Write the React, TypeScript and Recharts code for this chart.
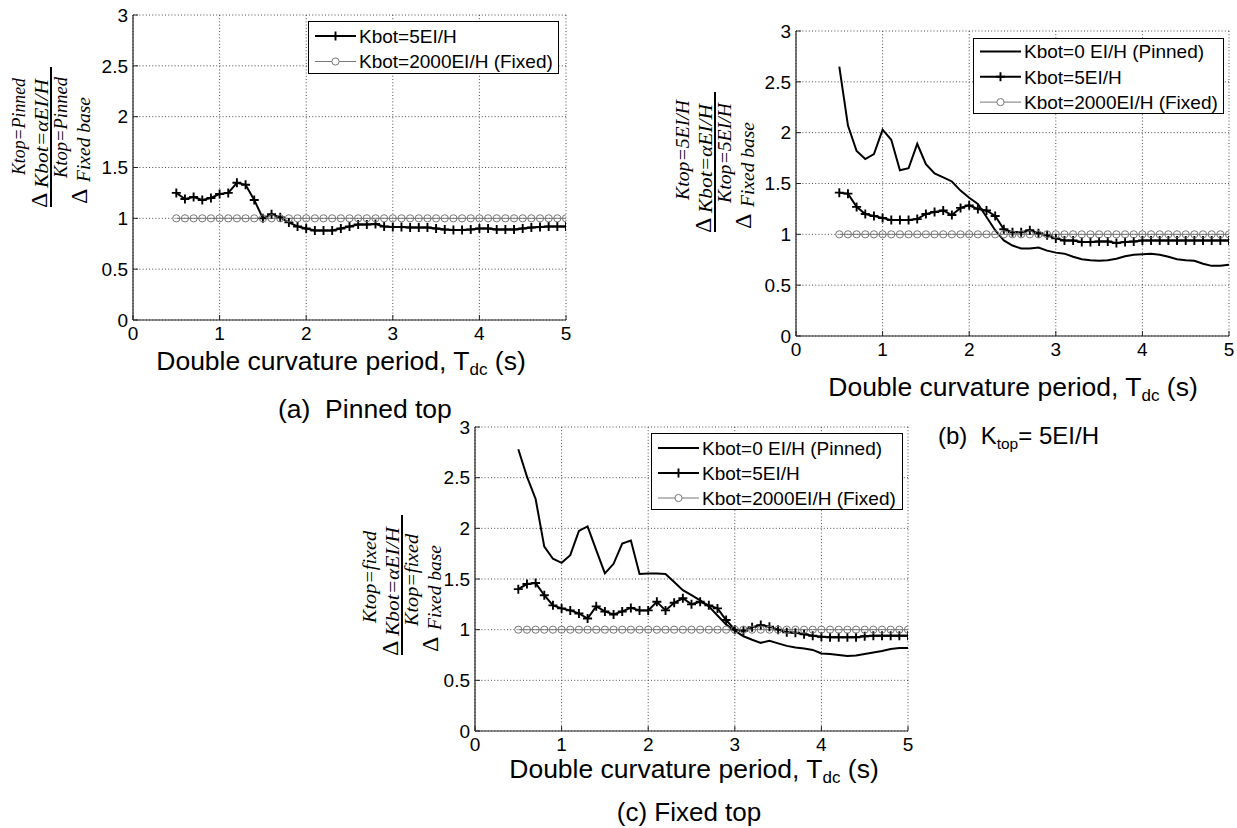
import React from 'react';
import { LineChart, Line, XAxis, YAxis, CartesianGrid, Legend } from 'recharts';

// ---------------- data ----------------
const periods = [
  0.5, 0.6, 0.7, 0.8, 0.9, 1.0, 1.1, 1.2, 1.3, 1.4,
  1.5, 1.6, 1.7, 1.8, 1.9, 2.0, 2.1, 2.2, 2.3, 2.4,
  2.5, 2.6, 2.7, 2.8, 2.9, 3.0, 3.1, 3.2, 3.3, 3.4,
  3.5, 3.6, 3.7, 3.8, 3.9, 4.0, 4.1, 4.2, 4.3, 4.4,
  4.5, 4.6, 4.7, 4.8, 4.9, 5.0,
];

const fixedRatio = [
  1, 1, 1, 1, 1, 1, 1, 1, 1, 1,
  1, 1, 1, 1, 1, 1, 1, 1, 1, 1,
  1, 1, 1, 1, 1, 1, 1, 1, 1, 1,
  1, 1, 1, 1, 1, 1, 1, 1, 1, 1,
  1, 1, 1, 1, 1, 1,
];

// (a) Pinned top
const aKbot5 = [
  1.25, 1.19, 1.21, 1.18, 1.2, 1.24, 1.25, 1.35, 1.33, 1.18,
  1.0, 1.04, 1.01, 0.96, 0.92, 0.9, 0.88, 0.88, 0.88, 0.9,
  0.92, 0.94, 0.94, 0.945, 0.92, 0.915, 0.915, 0.91, 0.91, 0.91,
  0.9, 0.89, 0.885, 0.885, 0.89, 0.9, 0.9, 0.89, 0.89, 0.89,
  0.9, 0.91, 0.915, 0.92, 0.92, 0.92,
];

// (b) Ktop = 5EI/H
const bKbot0 = [
  2.65, 2.07, 1.82, 1.74, 1.79, 2.03, 1.93, 1.63, 1.65, 1.89,
  1.69, 1.6, 1.56, 1.52, 1.43, 1.36, 1.3, 1.17, 1.04, 0.94,
  0.89, 0.86, 0.86, 0.87, 0.84, 0.82, 0.81, 0.78, 0.755, 0.745,
  0.74, 0.745, 0.76, 0.785, 0.8, 0.805, 0.81, 0.8, 0.78, 0.755,
  0.745, 0.74, 0.71, 0.69, 0.69, 0.7,
];
const bKbot5 = [
  1.41, 1.4, 1.27, 1.2, 1.18, 1.16, 1.14, 1.14, 1.14, 1.15,
  1.2, 1.22, 1.235, 1.19, 1.26, 1.285, 1.25, 1.235, 1.18, 1.05,
  1.02, 1.02, 1.04, 1.01, 0.99, 0.96, 0.94, 0.94, 0.925, 0.925,
  0.93, 0.93, 0.915, 0.925, 0.93, 0.94, 0.94, 0.94, 0.94, 0.94,
  0.94, 0.94, 0.94, 0.94, 0.94, 0.94,
];

// (c) Fixed top
const cKbot0 = [
  2.78, 2.51, 2.29, 1.82, 1.7, 1.66, 1.735, 1.975, 2.02, 1.785,
  1.555, 1.65, 1.85, 1.88, 1.55, 1.555, 1.555, 1.55, 1.47, 1.39,
  1.34, 1.29, 1.23, 1.14, 1.05, 0.99, 0.935, 0.9, 0.87, 0.89,
  0.865, 0.84, 0.825, 0.815, 0.8, 0.765, 0.76, 0.75, 0.74, 0.745,
  0.76, 0.775, 0.79, 0.81, 0.82, 0.82,
];
const cKbot5 = [
  1.4, 1.45, 1.46, 1.34, 1.24, 1.21, 1.19, 1.16, 1.11, 1.23,
  1.18, 1.15, 1.18, 1.215, 1.19, 1.19, 1.275, 1.19, 1.265, 1.31,
  1.25, 1.275, 1.24, 1.21, 1.095, 1.0, 0.99, 1.025, 1.045, 1.03,
  1.0, 0.975, 0.97, 0.955, 0.94, 0.93, 0.925, 0.925, 0.925, 0.925,
  0.935, 0.94, 0.94, 0.94, 0.94, 0.94,
];

const xTicks = [0, 1, 2, 3, 4, 5];
const yTicks = [0, 0.5, 1, 1.5, 2, 2.5, 3];

const labelPinned = 'Kbot=0 EI/H (Pinned)';
const label5 = 'Kbot=5EI/H';
const labelFixed = 'Kbot=2000EI/H (Fixed)';

// ---------------- styling ----------------
const SANS = '"Liberation Sans", Arial, Helvetica, sans-serif';
const SERIF = '"Liberation Serif", "Times New Roman", serif';
const GREY = '#777777';

const PlusDot = (props: any) => {
  const { cx, cy, index } = props;
  if (cx == null || cy == null) return null;
  const s = 4.5;
  return (
    <path
      key={`plus-${index}`}
      d={`M${cx - s},${cy}H${cx + s}M${cx},${cy - s}V${cy + s}`}
      stroke="#000"
      strokeWidth={1.9}
      fill="none"
    />
  );
};

const CircleDot = (props: any) => {
  const { cx, cy, index } = props;
  if (cx == null || cy == null) return null;
  return <circle key={`circ-${index}`} cx={cx} cy={cy} r={3.6} fill="none" stroke={GREY} strokeWidth={1} />;
};

type Entry = { kind: 'plain' | 'plus' | 'circle'; label: string };

const makeLegend = (entries: Entry[], w: number, h: number, rowStart: number, rowGap: number) => () => (
  <svg width={w} height={h} style={{ display: 'block' }}>
    <rect x={0.5} y={0.5} width={w - 1} height={h - 1} fill="#fff" stroke="#000" strokeWidth={1} />
    {entries.map((e, i) => {
      const y = rowStart + i * rowGap;
      const col = e.kind === 'circle' ? GREY : '#000';
      return (
        <g key={i}>
          <line x1={7} x2={48} y1={y} y2={y} stroke={col} strokeWidth={e.kind === 'circle' ? 1 : 2} />
          {e.kind === 'plus' && (
            <path d={`M${27.5 - 4.5},${y}H${27.5 + 4.5}M27.5,${y - 4.5}V${y + 4.5}`} stroke="#000" strokeWidth={1.9} />
          )}
          {e.kind === 'circle' && <circle cx={27.5} cy={y} r={3.6} fill="#fff" stroke={GREY} strokeWidth={1} />}
          <text x={51} y={y + 6.8} fontSize={19} fontFamily={SANS} fill="#000">
            {e.label}
          </text>
        </g>
      );
    })}
  </svg>
);

type PanelProps = {
  plotLeft: number;
  plotTop: number;
  plotW: number;
  plotH: number;
  data: any[];
  hasPinned: boolean;
  legend: { x: number; y: number; w: number; h: number; rowStart: number; rowGap: number };
};

const YW = 60;
const MT = 10;
const MR = 8;
const XH = 40;

function Panel({ plotLeft, plotTop, plotW, plotH, data, hasPinned, legend }: PanelProps) {
  const chartLeft = plotLeft - YW;
  const chartTop = plotTop - MT;
  const w = YW + plotW + MR;
  const h = MT + plotH + XH;
  const entries: Entry[] = hasPinned
    ? [
        { kind: 'plain', label: labelPinned },
        { kind: 'plus', label: label5 },
        { kind: 'circle', label: labelFixed },
      ]
    : [
        { kind: 'plus', label: label5 },
        { kind: 'circle', label: labelFixed },
      ];
  const tickStyle = { fontSize: 19, fill: '#000', fontFamily: SANS };
  return (
    <div style={{ position: 'absolute', left: chartLeft, top: chartTop, width: w, height: h }}>
      <LineChart width={w} height={h} data={data} margin={{ top: MT, right: MR, left: 0, bottom: 0 }}>
        <CartesianGrid stroke="#3a3a3a" strokeWidth={0.9} strokeDasharray="1 2.2" />
        <XAxis
          dataKey="t"
          type="number"
          domain={[0, 5]}
          ticks={xTicks}
          interval={0}
          height={XH}
          allowDataOverflow
          axisLine={{ stroke: '#222', strokeWidth: 1.2 }}
          tickLine={{ stroke: '#222', strokeWidth: 1 }}
          tickSize={-5}
          tickMargin={12}
          tick={tickStyle}
        />
        <YAxis
          type="number"
          domain={[0, 3]}
          ticks={yTicks}
          interval={0}
          width={YW}
          allowDataOverflow
          axisLine={{ stroke: '#222', strokeWidth: 1.2 }}
          tickLine={{ stroke: '#222', strokeWidth: 1 }}
          tickSize={-5}
          tickMargin={10}
          tick={tickStyle}
        />
        {hasPinned && (
          <Line type="linear" dataKey="k0" stroke="#000" strokeWidth={2} dot={false} isAnimationActive={false} />
        )}
        <Line type="linear" dataKey="k5" stroke="#000" strokeWidth={2} dot={PlusDot} isAnimationActive={false} />
        <Line type="linear" dataKey="kf" stroke={GREY} strokeWidth={1} dot={CircleDot} isAnimationActive={false} />
        <Legend
          layout="horizontal"
          align="center"
          verticalAlign="middle"
          content={makeLegend(entries, legend.w, legend.h, legend.rowStart, legend.rowGap)}
          wrapperStyle={{
            position: 'absolute',
            left: legend.x - chartLeft,
            top: legend.y - chartTop,
            width: legend.w,
            height: legend.h,
            margin: 0,
            padding: 0,
          }}
        />
      </LineChart>
    </div>
  );
}

// Rotated fraction label (y axis)
function FracLabel({ cx, cy, supNum, subNum, supDen, subDen, lens }: any) {
  const fs = 19;
  return (
    <g transform={`translate(${cx},${cy}) rotate(-90)`} fontFamily={SERIF} fill="#000">
      <line x1={-70} x2={70} y1={0} y2={0} stroke="#000" strokeWidth={2} />
      <text x={-71} y={-4} fontSize={24}>Δ</text>
      <text x={-38} y={-26} fontSize={fs} fontStyle="italic" textLength={lens[0]} lengthAdjust="spacingAndGlyphs">
        {supNum}
      </text>
      <text x={-51} y={-3} fontSize={fs} fontStyle="italic" textLength={lens[1]} lengthAdjust="spacingAndGlyphs">
        {subNum}
      </text>
      <text x={-67} y={36} fontSize={24}>Δ</text>
      <text x={-41} y={16} fontSize={fs} fontStyle="italic" textLength={lens[2]} lengthAdjust="spacingAndGlyphs">
        {supDen}
      </text>
      <text x={-45} y={39} fontSize={fs} fontStyle="italic" textLength={lens[3]} lengthAdjust="spacingAndGlyphs">
        {subDen}
      </text>
    </g>
  );
}

function AxisTitle({ x, y }: { x: number; y: number }) {
  return (
    <text x={x} y={y} textAnchor="middle" fontSize={26.5} fontFamily={SANS} fill="#000">
      Double curvature period, T
      <tspan fontSize={17} dy={5}>dc</tspan>
      <tspan dy={-5}> (s)</tspan>
    </text>
  );
}

export default function App() {
  const aData = periods.map((t, i) => ({ t, k5: aKbot5[i], kf: fixedRatio[i] }));
  const bData = periods.map((t, i) => ({ t, k0: bKbot0[i], k5: bKbot5[i], kf: fixedRatio[i] }));
  const cData = periods.map((t, i) => ({ t, k0: cKbot0[i], k5: cKbot5[i], kf: fixedRatio[i] }));

  return (
    <div
      style={{
        position: 'absolute',
        left: 0,
        top: 0,
        width: 1237,
        height: 828,
        background: '#fff',
        overflow: 'hidden',
        fontFamily: SANS,
      }}
    >
      <Panel
        plotLeft={133}
        plotTop={15}
        plotW={433}
        plotH={305}
        data={aData}
        hasPinned={false}
        legend={{ x: 308, y: 21, w: 251, h: 53, rowStart: 15, rowGap: 25.5 }}
      />
      <Panel
        plotLeft={796}
        plotTop={31}
        plotW={433}
        plotH={305}
        data={bData}
        hasPinned={true}
        legend={{ x: 973, y: 38, w: 251, h: 76, rowStart: 13.5, rowGap: 25.3 }}
      />
      <Panel
        plotLeft={475}
        plotTop={427}
        plotW={433}
        plotH={304}
        data={cData}
        hasPinned={true}
        legend={{ x: 651, y: 433, w: 252, h: 77, rowStart: 15, rowGap: 25 }}
      />

      <svg
        width={1237}
        height={828}
        style={{ position: 'absolute', left: 0, top: 0, pointerEvents: 'none' }}
      >
        <FracLabel
          cx={51}
          cy={137}
          supNum="Ktop=Pinned"
          subNum="Kbot=αEI/H"
          supDen="Ktop=Pinned"
          subDen="Fixed base"
          lens={[97, 109, 101, 85]}
        />
        <FracLabel
          cx={715}
          cy={162}
          supNum="Ktop=5EI/H"
          subNum="Kbot=αEI/H"
          supDen="Ktop=5EI/H"
          subDen="Fixed base"
          lens={[100, 109, 100, 85]}
        />
        <FracLabel
          cx={402}
          cy={585}
          supNum="Ktop=fixed"
          subNum="Kbot=αEI/H"
          supDen="Ktop=fixed"
          subDen="Fixed base"
          lens={[92, 109, 92, 85]}
        />

        <AxisTitle x={341} y={370} />
        <AxisTitle x={1013} y={396} />
        <AxisTitle x={694} y={778} />

        <text x={278} y={418} fontSize={26.5} fontFamily={SANS} fill="#000" style={{ whiteSpace: 'pre' }}>
          {'(a)  Pinned top'}
        </text>
        <text x={938} y={444} fontSize={24} fontFamily={SANS} fill="#000" style={{ whiteSpace: 'pre' }}>
          {'(b)  K'}
          <tspan fontSize={15.5} dy={5}>top</tspan>
          <tspan dy={-5}>{'= 5EI/H'}</tspan>
        </text>
        <text x={689} y={821} textAnchor="middle" fontSize={26} fontFamily={SANS} fill="#000">
          (c) Fixed top
        </text>
      </svg>
    </div>
  );
}
